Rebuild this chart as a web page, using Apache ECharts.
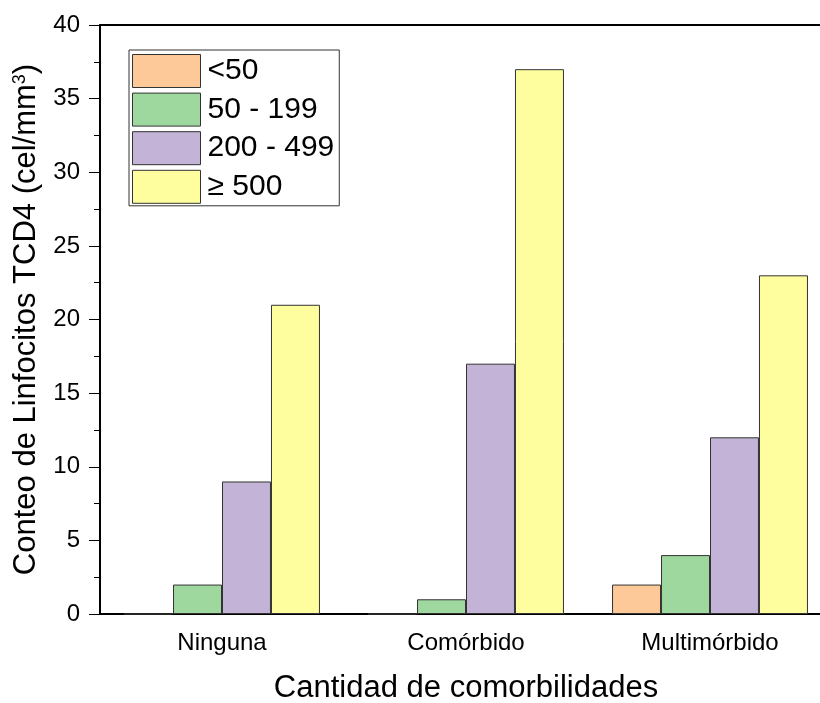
<!DOCTYPE html>
<html><head><meta charset="utf-8">
<script src="https://cdn.jsdelivr.net/npm/echarts@6/dist/echarts.min.js"></script>
<style>html,body{margin:0;padding:0;background:#fff;overflow:hidden;width:820px;height:703px}#c{width:840px;height:703px}</style>
</head><body><div id="c"></div>
<script>
const categories = ['Ninguna', 'Comórbido', 'Multimórbido'];
const seriesNames = ['<50', '50 - 199', '200 - 499', '≥ 500'];
const lt50 = [0, 0, 2];
const s50_199 = [2, 1, 4];
const s200_499 = [9, 17, 12];
const ge500 = [21, 37, 23];
const yTicks = [0, 5, 10, 15, 20, 25, 30, 35, 40];
const colors = ['#FDC998', '#9FD89E', '#C2B3D7', '#FFFE9F'];

const values = [lt50, s50_199, s200_499, ge500];
const font = 'Arial, "Liberation Sans", sans-serif';
const chart = echarts.init(document.getElementById('c'));
chart.setOption({
  animation: false,
  grid: {left: 100, top: 25, width: 732, height: 589, containLabel: false, outerBoundsMode: 'none'},
  legend: {
    left: 129, top: 50, orient: 'vertical', icon: 'rect',
    itemWidth: 68, itemHeight: 33, itemGap: 4.6, padding: [4, 5, 2, 3],
    borderColor: '#333', borderWidth: 1,
    textStyle: {fontSize: 30, fontFamily: font, color: '#000', padding: [0, 0, 0, 2]},
    data: seriesNames.map(n => ({name: n, itemStyle: {borderColor: '#333', borderWidth: 1}}))
  },
  xAxis: [
    {type: 'category', data: categories, position: 'bottom',
     axisLine: {lineStyle: {color: '#000', width: 2}},
     axisTick: {length: 6, lineStyle: {color: '#000', width: 1}},
     axisLabel: {fontSize: 24, fontFamily: font, color: '#000', margin: 17},
     name: 'Cantidad de comorbilidades', nameLocation: 'middle', nameGap: 59,
     nameTextStyle: {fontSize: 31, fontFamily: font, color: '#000'}},
    {type: 'category', data: categories, position: 'bottom',
     axisLine: {show: false},
     axisTick: {alignWithLabel: true, length: 10, lineStyle: {color: '#000', width: 1}},
     axisLabel: {show: false}},
    {type: 'category', data: categories, position: 'top',
     axisLine: {lineStyle: {color: '#000', width: 2}},
     axisTick: {show: false}, axisLabel: {show: false}}
  ],
  yAxis: {
    type: 'value', min: 0, max: 40, interval: 5,
    axisLine: {show: true, lineStyle: {color: '#000', width: 2}},
    axisTick: {show: true, length: 11, lineStyle: {color: '#000', width: 1}},
    minorTick: {show: true, splitNumber: 2, length: 6, lineStyle: {color: '#000', width: 1}},
    splitLine: {show: false},
    axisLabel: {fontSize: 24, fontFamily: font, color: '#000', margin: 20,
      formatter: v => yTicks.includes(v) ? String(v) : ''},
    name: 'Conteo de Linfocitos TCD4 (cel/mm{sup|3})', nameLocation: 'middle', nameGap: 55,
    nameTextStyle: {fontSize: 31, fontFamily: font, color: '#000',
      rich: {sup: {fontSize: 18, fontFamily: font, color: '#000', verticalAlign: 'top', padding: [0, 0, 13, 0]}}}
  },
  series: seriesNames.map((n, i) => ({
    name: n, type: 'bar', xAxisIndex: 0, data: values[i],
    barGap: '0%', barCategoryGap: '19.7%',
    itemStyle: {color: colors[i], borderColor: '#333', borderWidth: 1}
  }))
});
</script></body></html>
